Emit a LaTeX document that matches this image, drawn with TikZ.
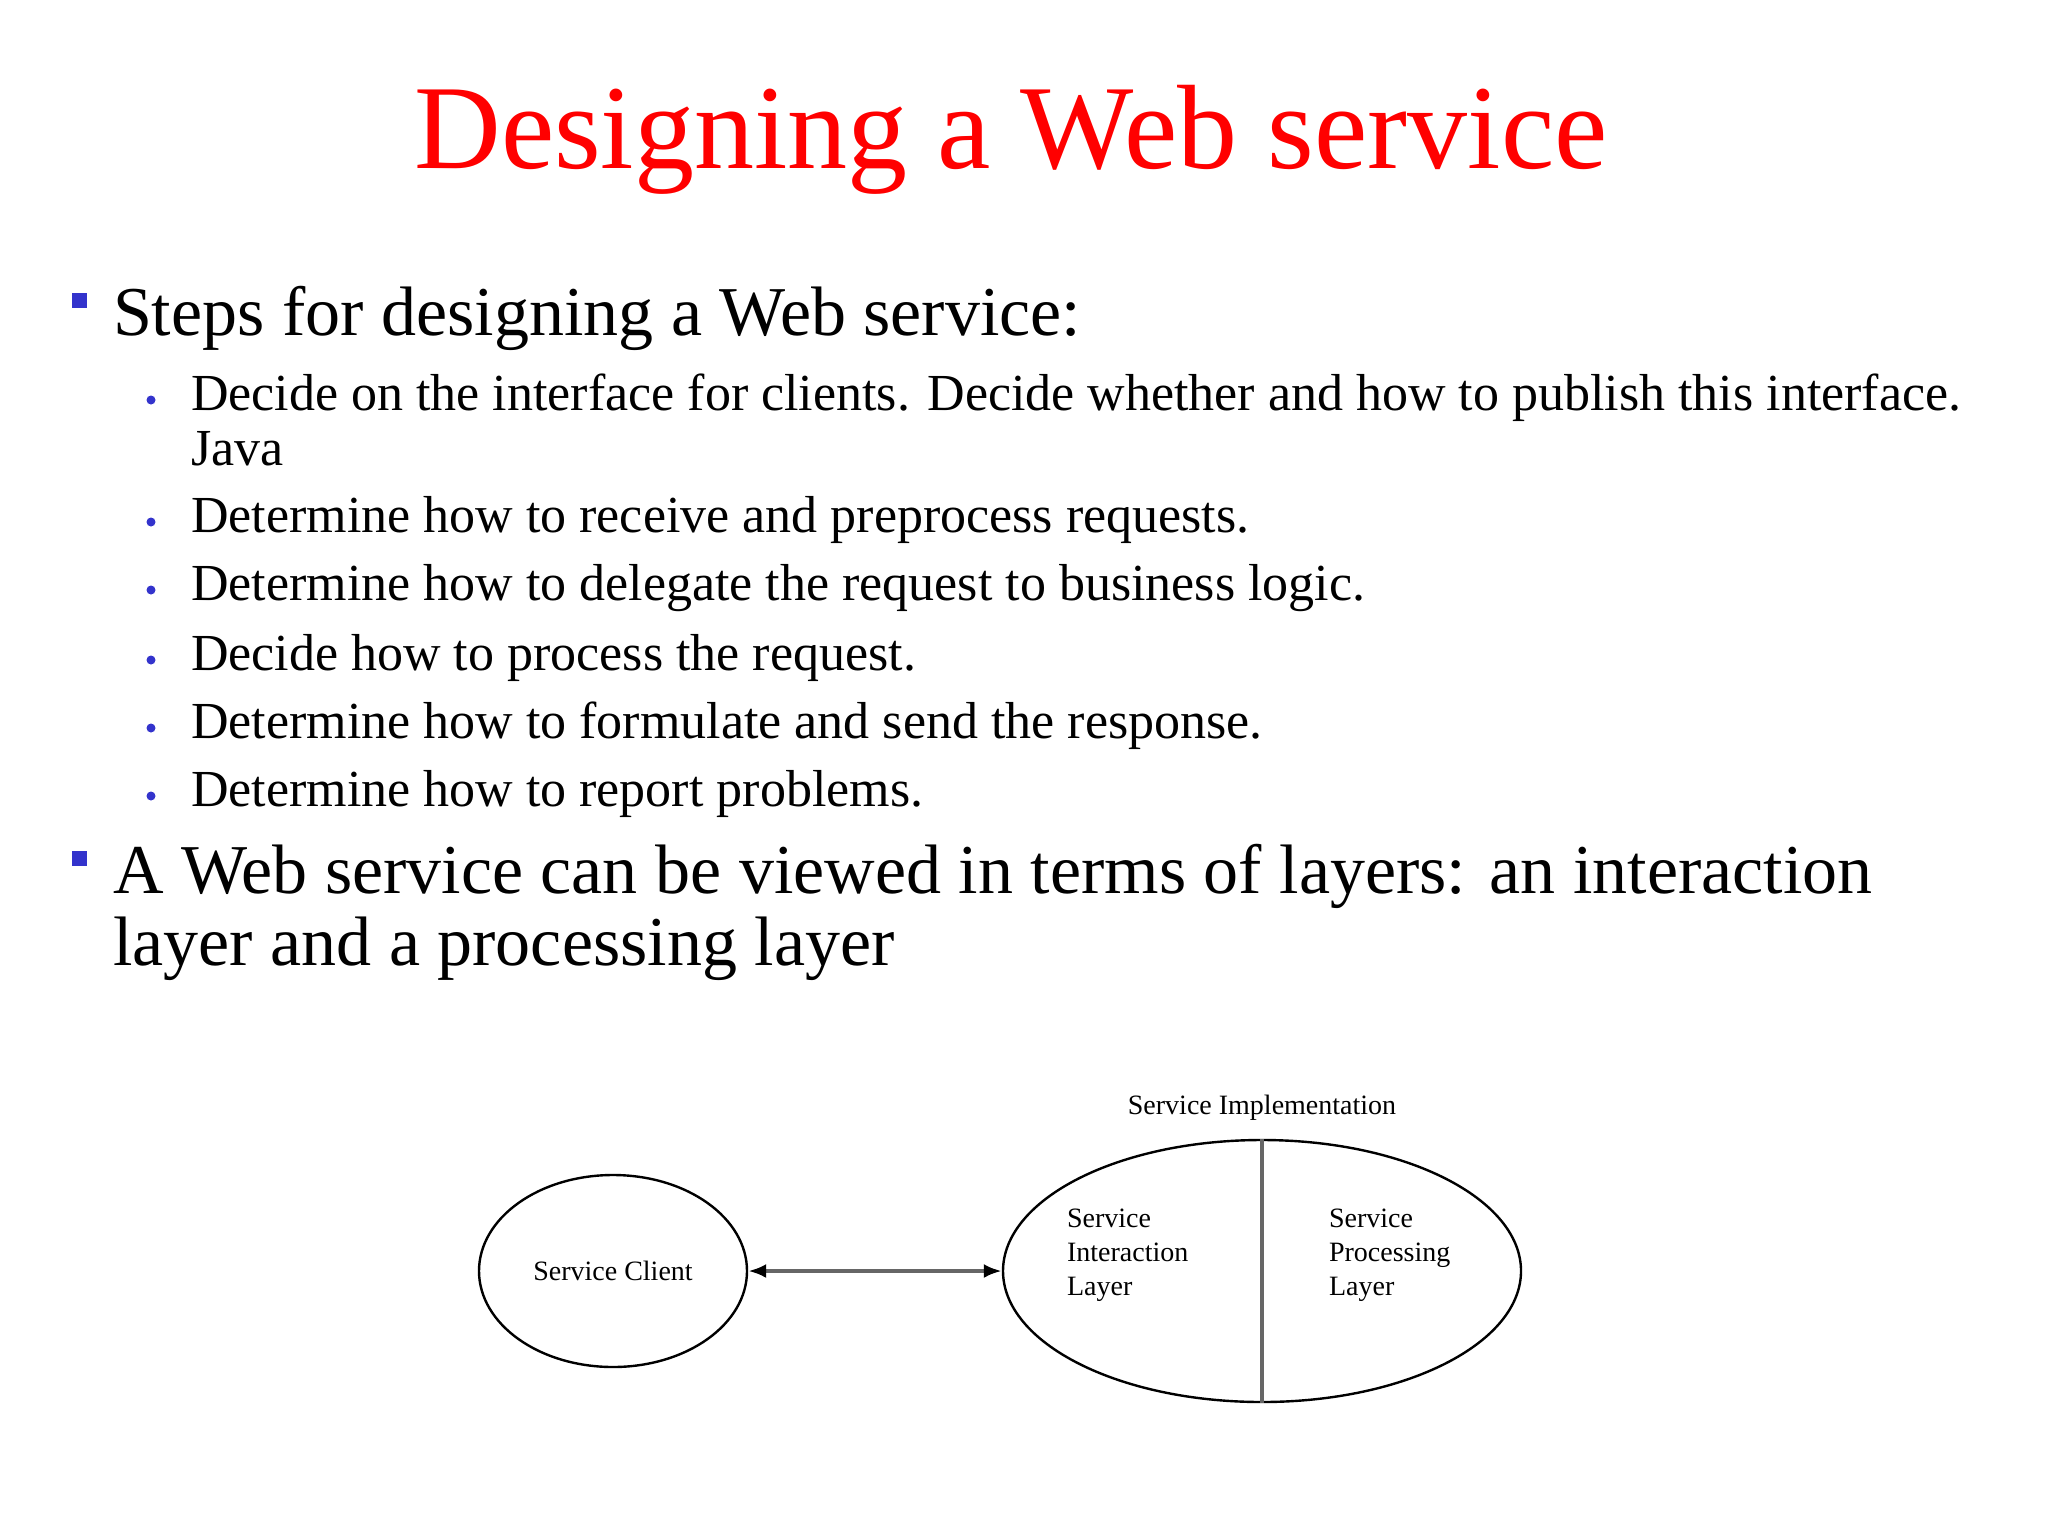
\documentclass[tikz,border=0pt]{standalone}
\usepackage{fontspec}
\setmainfont{Liberation Serif}
\usetikzlibrary{arrows.meta,shapes.geometric}
\definecolor{bblue}{RGB}{51,51,204}
\tikzset{
  lone/.style={anchor=base west,font=\fontsize{35}{40}\selectfont},
  ltwo/.style={anchor=base west,font=\fontsize{26}{30}\selectfont},
  sqb/.style={fill=bblue,minimum size=7.5pt,inner sep=0pt},
  dotb/.style={circle,fill=bblue,minimum size=4.5pt,inner sep=0pt},
  dtxt/.style={font=\fontsize{14}{17}\selectfont,align=left,anchor=north west}
}
\begin{document}
\begin{tikzpicture}[x=0.5pt,y=-0.5pt]
\useasboundingbox (0,0) rectangle (2048,1536);
\node[anchor=base,text=red,font=\fontsize{60}{70}\selectfont] (title) at (1011,168) {Designing a Web service};
\node[sqb] (b1) at (79,300) {};
\node[lone] (t1) at (106,335) {Steps for designing a Web service:};
\foreach \y/\t [count=\i] in {410/{Decide on the interface for clients. Decide whether and how to publish this interface.},
 532/{Determine how to receive and preprocess requests.},
 600/{Determine how to delegate the request to business logic.},
 670/{Decide how to process the request.},
 738/{Determine how to formulate and send the response.},
 806/{Determine how to report problems.}}{
  \node[dotb] (d\i) at (151,\y-10) {};
  \node[ltwo] (s\i) at (184,\y) {\t};
}
\node[ltwo] (java) at (184,465) {Java};
\node[sqb] (b2) at (79,858) {};
\node[lone] (t2) at (106,893) {A Web service can be viewed in terms of layers: an interaction};
\node[lone] (t3) at (106,965) {layer and a processing layer};
% diagram
\node[draw,line width=1.2pt,ellipse,minimum width=134pt,minimum height=96pt,inner sep=0pt,font=\fontsize{14}{17}\selectfont] (client) at (613,1271) {Service Client};
\node[draw,line width=1.2pt,ellipse,minimum width=259pt,minimum height=131pt,inner sep=0pt] (impl) at (1262,1271) {};
\draw[gray!80!black,line width=2.4pt] (impl.north) -- (impl.south);
\node[anchor=south,font=\fontsize{14}{17}\selectfont] (lab) at (1262,1128) {Service Implementation};
\node[dtxt] (il) at (1060,1202) {Service\\Interaction\\Layer};
\node[dtxt] (pl) at (1322,1202) {Service\\Processing\\Layer};
\draw[gray!80!black,line width=2pt,{Latex[black,length=9pt,width=7pt]}-{Latex[black,length=9pt,width=7pt]}] (client.east) -- (impl.west);
\end{tikzpicture}
\end{document}
